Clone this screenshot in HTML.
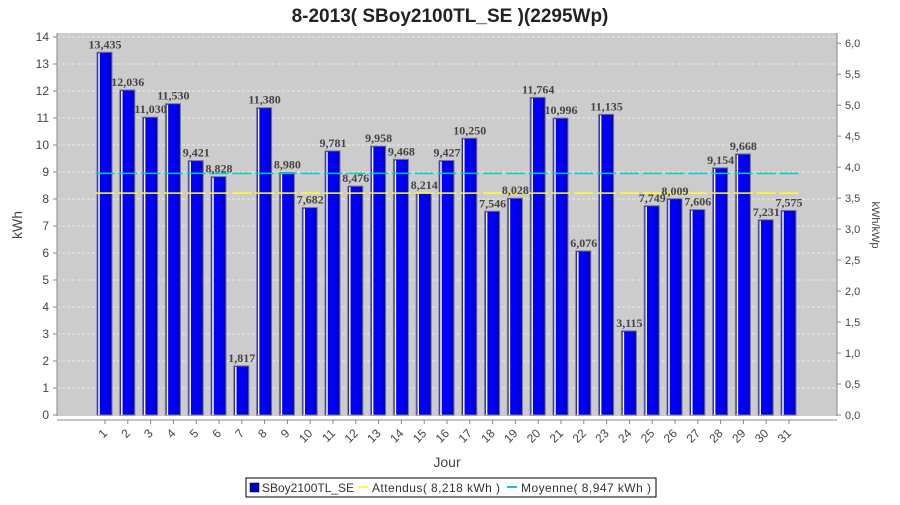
<!DOCTYPE html>
<html><head><meta charset="utf-8"><style>
body{margin:0;background:#fff;}
svg text{font-family:"Liberation Sans",sans-serif;}
svg text.vl{font-family:"Liberation Serif",serif;}
</style></head><body>
<svg id="chart" width="900" height="500" viewBox="0 0 900 500" xmlns="http://www.w3.org/2000/svg">
<defs>
<linearGradient id="bg" x1="0" x2="1" y1="0" y2="0">
<stop offset="0" stop-color="#0000e8"/><stop offset="0.5" stop-color="#0000ff"/><stop offset="1" stop-color="#0000c8"/>
</linearGradient>
</defs>
<text x="450" y="22" text-anchor="middle" font-size="19" font-weight="bold" fill="#222">8-2013( SBoy2100TL_SE )(2295Wp)</text>
<rect x="57" y="33" width="780" height="383" fill="#cccccc"/>
<g id="grid"></g>
<g id="bars"></g>
<g id="lines"></g>
<g id="labels"></g>
<line x1="57" y1="33" x2="57" y2="416" stroke="#888"/>
<line x1="837" y1="33" x2="837" y2="416" stroke="#888"/>
<line x1="57" y1="420" x2="837" y2="420" stroke="#888"/>
<g id="yticks"></g>
<g id="y2ticks"></g>
<g id="xticks"></g>
<text x="22" y="225" transform="rotate(-90 22 225)" text-anchor="middle" font-size="14" fill="#444">kWh</text>
<text x="872" y="225" transform="rotate(90 872 225)" text-anchor="middle" font-size="11" fill="#444">kWh/kWp</text>
<text x="447" y="467" text-anchor="middle" font-size="14" fill="#444">Jour</text>
<g>
<rect x="246" y="478" width="410" height="19" fill="#fff" stroke="#000"/>
<rect x="250" y="483" width="9" height="9" fill="#0000c0" stroke="#000" stroke-width="0.5"/>
<text x="262" y="492" font-size="12" fill="#333">SBoy2100TL_SE</text>
<line x1="358" y1="487" x2="368" y2="487" stroke="#ffff33" stroke-width="2"/>
<text x="372" y="492" font-size="12" fill="#333" textLength="128">Attendus( 8,218 kWh )</text>
<line x1="507" y1="487" x2="517" y2="487" stroke="#00cccc" stroke-width="2"/>
<text x="521" y="492" font-size="12" fill="#333" textLength="130">Moyenne( 8,947 kWh )</text>
</g>
</svg>
<script>
const days=[1,2,3,4,5,6,7,8,9,10,11,12,13,14,15,16,17,18,19,20,21,22,23,24,25,26,27,28,29,30,31];
const values=[13.435,12.036,11.030,11.530,9.421,8.828,1.817,11.380,8.980,7.682,9.781,8.476,9.958,9.468,8.214,9.427,10.250,7.546,8.028,11.764,10.996,6.076,11.135,3.115,7.749,8.009,7.606,9.154,9.668,7.231,7.575];
const valueLabels=["13,435","12,036","11,030","11,530","9,421","8,828","1,817","11,380","8,980","7,682","9,781","8,476","9,958","9,468","8,214","9,427","10,250","7,546","8,028","11,764","10,996","6,076","11,135","3,115","7,749","8,009","7,606","9,154","9,668","7,231","7,575"];
const yTicks=[0,1,2,3,4,5,6,7,8,9,10,11,12,13,14];
const y2Ticks=["0,0","0,5","1,0","1,5","2,0","2,5","3,0","3,5","4,0","4,5","5,0","5,5","6,0"];
const attendus=8.218;
const moyenne=8.947;
const wp=2.295;
const NS="http://www.w3.org/2000/svg";
const y=v=>415-v*27;
const x=i=>105+i*22.8;
function mk(tag,attrs,parent){const e=document.createElementNS(NS,tag);for(const k in attrs)e.setAttribute(k,attrs[k]);document.getElementById(parent).appendChild(e);return e;}
yTicks.forEach(t=>{
  if(t>0){const g=mk('line',{x1:57,x2:837,y1:y(t),y2:y(t),stroke:'#f4f4f4','stroke-dasharray':'3,2','stroke-width':0.8},'grid');
  
  }
  mk('line',{x1:53,x2:57,y1:y(t),y2:y(t),stroke:'#888'},'yticks');
  const tx=mk('text',{x:49,y:y(t)+4,'text-anchor':'end','font-size':12,fill:'#444'},'yticks');
  tx.textContent=t;
  
  
});
y2Ticks.forEach((t,i)=>{
  const v=parseFloat(t.replace(',','.'))*wp;
  mk('line',{x1:837,x2:841,y1:y(v),y2:y(v),stroke:'#888'},'y2ticks');
  const tx=mk('text',{x:845,y:y(v)+4,'font-size':11,fill:'#444'},'y2ticks');
  tx.textContent=t;
  
  
});
days.forEach((d,i)=>{
  const cx=x(i),v=values[i];
  const b=mk('rect',{x:cx-8,y:y(v),width:15,height:415-y(v),fill:'url(#bg)',stroke:'#777','stroke-width':1},'bars');
  
  
  mk('line',{x1:cx-6,x2:cx-6,y1:y(v)+1,y2:415,stroke:'#fff','stroke-width':1.5},'bars');
  const l=mk('text',{x:cx,y:y(v)-4,'text-anchor':'middle','font-size':12,'font-weight':'bold',fill:'#444','class':'vl'},'labels');
  l.textContent=valueLabels[i];
  
  
  const a=mk('line',{x1:cx-9.5,x2:cx+9.5,y1:y(attendus),y2:y(attendus),stroke:'#ffff33','stroke-width':1.5},'lines');
  
  
  const m=mk('line',{x1:cx-9.5,x2:cx+9.5,y1:y(moyenne),y2:y(moyenne),stroke:'#00cccc','stroke-width':1.5},'lines');
  
  
  mk('line',{x1:cx,x2:cx,y1:420,y2:424,stroke:'#888'},'xticks');
  const t=mk('text',{x:cx+3,y:434,'text-anchor':'end','font-size':12,fill:'#444',transform:`rotate(-45 ${cx+3} 434)`},'xticks');
  t.textContent=d;
  
  
});
</script>
</body></html>
